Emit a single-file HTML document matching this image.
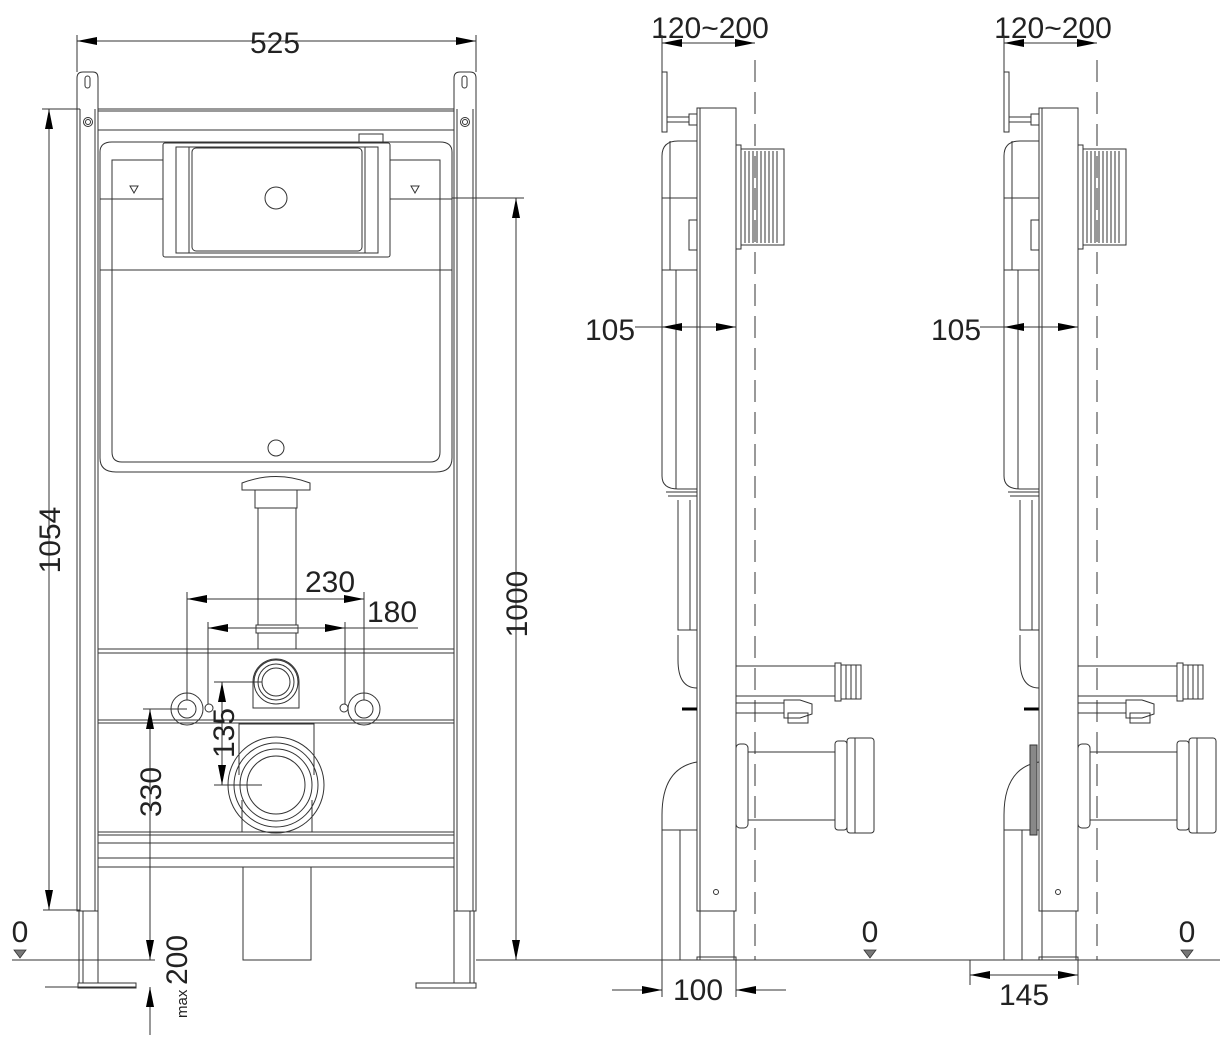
<!DOCTYPE html>
<html><head><meta charset="utf-8"><style>
html,body{margin:0;padding:0;background:#fff}
svg{display:block}
text{font-family:"Liberation Sans",sans-serif;fill:#222}
</style></head><body>
<svg width="1220" height="1039" viewBox="0 0 1220 1039" xmlns="http://www.w3.org/2000/svg">
<defs>
<marker id="a" viewBox="0 0 20 8" refX="20" refY="4" markerWidth="20" markerHeight="8" markerUnits="userSpaceOnUse" orient="auto-start-reverse"><path d="M0,0 L20,4 L0,8 Z" fill="#000"/></marker>
</defs>
<g fill="none" stroke="#333" stroke-width="1">
<!-- FRONT VIEW -->
<!-- posts -->
<path d="M77,911 V78 Q77,72 83,72 H93 Q98,72 98,78 V911 Z"/>
<line x1="80" y1="109" x2="80" y2="911"/><line x1="95" y1="109" x2="95" y2="911"/>
<path d="M454,911 V78 Q454,72 460,72 H470 Q476,72 476,78 V911 Z"/>
<line x1="457" y1="109" x2="457" y2="911"/><line x1="473" y1="109" x2="473" y2="911"/>
<rect x="85" y="76" width="5" height="12" rx="2.5"/><rect x="462" y="76" width="5" height="12" rx="2.5"/>
<circle cx="88" cy="122" r="4.5"/><circle cx="88" cy="122" r="2.5"/>
<circle cx="465" cy="122" r="4.5"/><circle cx="465" cy="122" r="2.5"/>
<!-- legs -->
<rect x="79" y="911" width="19" height="72"/><line x1="83" y1="911" x2="83" y2="983"/>
<rect x="454" y="911" width="20" height="72"/><line x1="470" y1="911" x2="470" y2="983"/>
<rect x="78" y="983" width="58" height="5"/><rect x="416" y="983" width="60" height="5"/>
<!-- top crossbar -->
<line x1="98" y1="109" x2="454" y2="109"/><line x1="98" y1="111" x2="454" y2="111"/>
<line x1="98" y1="130" x2="454" y2="130"/>
<!-- cistern -->
<path d="M100,270 V152 Q100,142 112,142 H440 Q452,142 452,152 V270 Z"/>
<path d="M112,270 V160 H163 M390,160 H440 V270"/>
<line x1="100" y1="199" x2="163" y2="199"/><line x1="390" y1="199" x2="452" y2="199"/>
<path d="M100,270 V458 Q100,472 116,472 H436 Q452,472 452,458 V270"/>
<path d="M112,270 V452 Q112,462 122,462 H430 Q440,462 440,452 V270"/>
<rect x="163" y="143" width="227" height="114" rx="2"/>
<rect x="176" y="147" width="202" height="106"/>
<rect x="192" y="148" width="170" height="103" rx="4"/>
<line x1="189" y1="147" x2="189" y2="253"/><line x1="365" y1="147" x2="365" y2="253"/>
<circle cx="276" cy="198" r="11"/>
<rect x="359" y="134" width="24" height="8"/>
<path d="M130,186 h8 l-4,7 z M411,186 h8 l-4,7 z"/>
<circle cx="276" cy="448" r="8"/>
<!-- flush pipe -->
<path d="M242,483 Q276,470 310,483 V490 H242 Z"/>
<rect x="255" y="490" width="42" height="18"/>
<path d="M258,508 V625 M296,508 V625"/>
<rect x="256" y="625" width="42" height="8"/>
<path d="M258,633 V649 M296,633 V649"/>
<!-- crossbars -->
<line x1="98" y1="649" x2="454" y2="649"/><line x1="98" y1="653" x2="454" y2="653"/>
<line x1="98" y1="720" x2="454" y2="720"/><line x1="98" y1="723" x2="454" y2="723"/>
<line x1="98" y1="832" x2="454" y2="832"/><line x1="98" y1="835" x2="454" y2="835"/>
<line x1="98" y1="843" x2="454" y2="843"/>
<line x1="98" y1="858" x2="454" y2="858"/><line x1="98" y1="867" x2="454" y2="867"/>
<!-- upper outlet -->
<path d="M253,708 V682 A23,23 0 0 1 299,682 V708 Z"/>
<circle cx="276" cy="682" r="22"/><circle cx="276" cy="682" r="18"/><circle cx="276" cy="682" r="14"/>
<!-- small inlets -->
<circle cx="187" cy="709" r="16"/><circle cx="187" cy="709" r="9"/>
<circle cx="364" cy="709" r="16"/><circle cx="364" cy="709" r="9"/>
<circle cx="209" cy="708" r="4"/><circle cx="344" cy="708" r="4"/>
<!-- big outlet -->
<path d="M239,775 V724 H314 V775"/>
<path d="M242,800 V832 M312,800 V832"/>
<circle cx="276" cy="785" r="48"/><circle cx="276" cy="785" r="42"/><circle cx="276" cy="785" r="36"/><circle cx="276" cy="785" r="29"/>
<!-- drain -->
<rect x="243" y="867" width="68" height="93"/>
</g>

<!-- dimension lines -->
<g fill="none" stroke="#333" stroke-width="1">
<line x1="77" y1="35" x2="77" y2="72"/><line x1="476" y1="35" x2="476" y2="72"/>
<line x1="77" y1="41" x2="476" y2="41" marker-start="url(#a)" marker-end="url(#a)"/>
<line x1="42" y1="109" x2="80" y2="109"/><line x1="43" y1="910" x2="80" y2="910"/>
<line x1="49" y1="109" x2="49" y2="910" marker-start="url(#a)" marker-end="url(#a)"/>
<line x1="452" y1="198" x2="524" y2="198"/>
<line x1="516" y1="198" x2="516" y2="960" marker-start="url(#a)" marker-end="url(#a)"/>
<line x1="476" y1="960" x2="1220" y2="960"/>
<line x1="12" y1="960" x2="155" y2="960"/>
<line x1="45" y1="987" x2="136" y2="987"/>
<line x1="187" y1="592" x2="187" y2="700"/><line x1="364" y1="592" x2="364" y2="700"/>
<line x1="187" y1="599" x2="364" y2="599" marker-start="url(#a)" marker-end="url(#a)"/>
<line x1="208" y1="622" x2="208" y2="704"/><line x1="345" y1="622" x2="345" y2="704"/>
<line x1="208" y1="628" x2="345" y2="628" marker-start="url(#a)" marker-end="url(#a)"/>
<line x1="345" y1="628" x2="418" y2="628"/>
<line x1="214" y1="682" x2="262" y2="682"/><line x1="214" y1="785" x2="262" y2="785"/>
<line x1="222" y1="682" x2="222" y2="785" marker-start="url(#a)" marker-end="url(#a)"/>
<line x1="143" y1="709" x2="187" y2="709"/>
<line x1="150" y1="709" x2="150" y2="960" marker-start="url(#a)" marker-end="url(#a)"/>
<line x1="150" y1="1035" x2="150" y2="987" marker-end="url(#a)"/>
</g>
<g font-size="30">
<text x="275" y="53" text-anchor="middle">525</text>
<text transform="translate(60,540) rotate(-90)" text-anchor="middle">1054</text>
<text transform="translate(527,604) rotate(-90)" text-anchor="middle">1000</text>
<text x="330" y="592" text-anchor="middle">230</text>
<text x="392" y="622" text-anchor="middle">180</text>
<text transform="translate(234,733) rotate(-90)" text-anchor="middle">135</text>
<text transform="translate(161,792) rotate(-90)" text-anchor="middle">330</text>
<text transform="translate(187,960) rotate(-90)" text-anchor="middle">200</text>
<text x="20" y="942" text-anchor="middle">0</text>
<text x="870" y="942" text-anchor="middle">0</text>
<text x="1187" y="942" text-anchor="middle">0</text>
<text x="710" y="38" text-anchor="middle">120~200</text>
<text x="1053" y="38" text-anchor="middle">120~200</text>
<text x="610" y="340" text-anchor="middle">105</text>
<text x="956" y="340" text-anchor="middle">105</text>
<text x="698" y="1000" text-anchor="middle">100</text>
<text x="1024" y="1005" text-anchor="middle">145</text>
</g>
<text transform="translate(187,1018) rotate(-90)" font-size="15">max</text>
<path d="M14,950 h12 l-6,8 z M864,950 h12 l-6,8 z M1181,950 h12 l-6,8 z" fill="#777" stroke="#333" stroke-width="0.8"/>

<!-- SIDE VIEWS -->
<g id="side" fill="none" stroke="#333" stroke-width="1">
<rect x="697" y="108" width="39" height="803"/>
<line x1="700" y1="108" x2="700" y2="911"/>
<rect x="700" y="911" width="34" height="49"/>
<rect x="697" y="957" width="39" height="3"/>
<circle cx="716" cy="892" r="2.5"/>
<line x1="755" y1="60" x2="755" y2="960" stroke-dasharray="22,10"/>
<!-- bracket -->
<rect x="662" y="72" width="5" height="60"/>
<rect x="667" y="117" width="22" height="5"/>
<rect x="689" y="114" width="8" height="11"/>
<!-- cistern -->
<path d="M697,141 H678 Q662,141 662,156 V198 H697 M662,198 V270 H697 M670,141 V270"/>
<path d="M662,270 V476 Q662,489 678,489 H697"/>
<line x1="676" y1="270" x2="676" y2="489"/>
<rect x="689" y="220" width="8" height="30"/>
<path d="M666,492 H697 M668,496 H697"/>
<path d="M678,500 V630 H697 M690,500 V630"/>
<path d="M678,635 V660 Q678,688 697,688"/>
<!-- bellows -->
<rect x="736" y="145" width="5" height="104"/>
<rect x="741" y="149" width="43" height="96"/>
<path d="M745,151 V243 M749,151 V243 M753,151 V243 M757,151 V243 M761,151 V243 M765,151 V243 M769,151 V243 M773,151 V243 M777,151 V243"/>
<!-- water pipe -->
<path d="M736,666 H835 M736,696 H835"/>
<rect x="835" y="663" width="6" height="38"/>
<path d="M841,665 h20 v34 h-20 M846,665 v34 M851,665 v34 M856,665 v34"/>
<!-- rod -->
<rect x="736" y="703" width="48" height="10"/>
<path d="M784,700 H800 L812,704 V714 L800,718 H784 Z"/>
<rect x="788" y="713" width="20" height="10"/>
<!-- big pipe -->
<rect x="736" y="744" width="12" height="84" rx="4"/>
<path d="M748,752 H835 M748,820 H835"/>
<rect x="835" y="741" width="12" height="89" rx="3"/>
<rect x="847" y="738" width="27" height="95" rx="3"/>
<line x1="855" y1="738" x2="855" y2="833"/>
<!-- elbow -->
<path d="M662,960 V815 Q662,768 697,762"/>
<path d="M680,960 V830"/>
<line x1="662" y1="830" x2="697" y2="830"/>
</g>
<g fill="none" stroke="#000" stroke-width="3"><line x1="682" y1="709" x2="697" y2="709"/><line x1="1024" y1="709" x2="1039" y2="709"/></g>

<use href="#side" x="342"/>
<rect x="1030" y="745" width="7" height="90" fill="#888" stroke="#333"/>

<g fill="none" stroke="#333" stroke-width="1">
<!-- side1 dims -->
<line x1="662" y1="35" x2="662" y2="72"/>
<line x1="662" y1="43" x2="755" y2="43" marker-start="url(#a)" marker-end="url(#a)"/>
<line x1="635" y1="327" x2="662" y2="327"/>
<line x1="662" y1="327" x2="736" y2="327" marker-start="url(#a)" marker-end="url(#a)"/>
<line x1="662" y1="960" x2="662" y2="997"/><line x1="736" y1="960" x2="736" y2="997"/>
<line x1="612" y1="990" x2="662" y2="990" marker-end="url(#a)"/>
<line x1="786" y1="990" x2="736" y2="990" marker-end="url(#a)"/>
<!-- side2 dims -->
<line x1="1004" y1="35" x2="1004" y2="72"/>
<line x1="1004" y1="43" x2="1097" y2="43" marker-start="url(#a)" marker-end="url(#a)"/>
<line x1="980" y1="327" x2="1004" y2="327"/>
<line x1="1004" y1="327" x2="1078" y2="327" marker-start="url(#a)" marker-end="url(#a)"/>
<line x1="970" y1="960" x2="970" y2="985"/><line x1="1078" y1="960" x2="1078" y2="985"/>
<line x1="970" y1="975" x2="1078" y2="975" marker-start="url(#a)" marker-end="url(#a)"/>
</g>
</svg>
</body></html>
